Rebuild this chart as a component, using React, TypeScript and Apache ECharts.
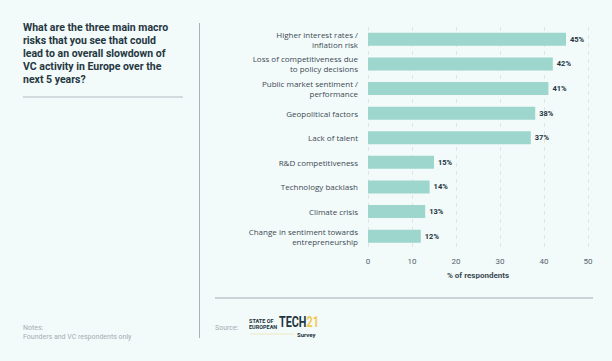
import React, { useEffect, useRef } from "react";
import * as echarts from "echarts";

const categories = [
  "Higher interest rates /\ninflation risk",
  "Loss of competitiveness due\nto policy decisions",
  "Public market sentiment /\nperformance",
  "Geopolitical factors",
  "Lack of talent",
  "R&D competitiveness",
  "Technology backlash",
  "Climate crisis",
  "Change in sentiment towards\nentrepreneurship",
];
const values = [45, 42, 41, 38, 37, 15, 14, 13, 12];
const xTicks = [0, 10, 20, 30, 40, 50];

const titleLines = [
  "What are the three main macro",
  "risks that you see that could",
  "lead to an overall slowdown of",
  "VC activity in Europe over the",
  "next 5 years?",
];

export default function App() {
  const ref = useRef<HTMLDivElement>(null);
  useEffect(() => {
    if (!ref.current) return;
    const chart = echarts.init(ref.current, null, { renderer: "svg" });
    const dark = "#22343d";
    chart.setOption({
      animation: false,
      backgroundColor: "#f3fafa",
      grid: { left: 368, right: 24, top: 27, bottom: 112.5 },
      xAxis: {
        type: "value",
        min: xTicks[0],
        max: xTicks[xTicks.length - 1],
        interval: 10,
        axisLine: { show: false },
        axisTick: { show: false },
        splitLine: { show: true, lineStyle: { color: "#dfe5e7", type: [4, 4], width: 1 } },
        axisLabel: { color: "#55646c", fontSize: 8, fontFamily: "Roboto", margin: 9 },
        name: "% of respondents",
        nameLocation: "middle",
        nameGap: 23,
        nameTextStyle: { color: "#3a4a52", fontSize: 8, fontWeight: "bold", fontFamily: "Roboto" },
      },
      yAxis: {
        type: "category",
        data: categories,
        inverse: true,
        axisLine: { show: false },
        axisTick: { show: false },
        axisLabel: {
          color: "#3b4a53",
          fontSize: 8,
          fontFamily: "Open Sans",
          lineHeight: 10,
          margin: 10,
        },
      },
      series: [
        {
          type: "bar",
          data: values,
          barWidth: 13,
          itemStyle: { color: "#9dd6cc" },
          label: {
            show: true,
            position: "right",
            distance: 4,
            formatter: "{c}%",
            color: dark,
            fontSize: 7.5,
            fontWeight: "bold",
            fontFamily: "Roboto",
          },
        },
      ],
      graphic: [
        ...titleLines.map((t, i) => ({
          type: "text",
          left: 23,
          top: 21.5 + i * 13,
          style: { text: t, fill: "#25373f", font: "bold 10.5px Roboto" },
        })),
        { type: "line", shape: { x1: 23, y1: 97, x2: 183, y2: 97 }, style: { stroke: "#c9d1d4", lineWidth: 1.5 } },
        { type: "line", shape: { x1: 199.5, y1: 23, x2: 199.5, y2: 338 }, style: { stroke: "#a9b3b7", lineWidth: 1 } },
        { type: "line", shape: { x1: 215, y1: 298, x2: 593, y2: 298 }, style: { stroke: "#a2adb2", lineWidth: 1 } },
        { type: "text", left: 23, top: 324, style: { text: "Notes:", fill: "#a3adb2", font: "7px Roboto" } },
        { type: "text", left: 23, top: 333, style: { text: "Founders and VC respondents only", fill: "#a3adb2", font: "7px Roboto" } },
        { type: "text", left: 215, top: 324, style: { text: "Source:", fill: "#a3adb2", font: "7px Roboto" } },
        { type: "text", x: 249, y: 317.5, style: { text: "STATE OF", fill: dark, font: "bold 5.5px Roboto" } },
        { type: "text", x: 249, y: 324, style: { text: "EUROPEAN", fill: dark, font: "bold 5.5px Roboto" } },
        { type: "text", x: 279, y: 314.5, scaleX: 0.72, style: { text: "TECH", fill: dark, font: "bold 15px Roboto" } },
        { type: "text", x: 306.5, y: 314.5, scaleX: 0.72, style: { text: "21", fill: "#f2c94c", font: "bold 15px Roboto" } },
        { type: "line", shape: { x1: 250, y1: 334, x2: 294, y2: 334 }, style: { stroke: "#f0e8c4", lineWidth: 1 } },
        { type: "text", x: 297, y: 331, style: { text: "Survey", fill: dark, font: "bold 6px Roboto" } },
      ],
    });
    return () => chart.dispose();
  }, []);
  return (
    <div
      ref={ref}
      style={{ position: "fixed", left: 0, top: 0, width: 612, height: 361 }}
    />
  );
}
